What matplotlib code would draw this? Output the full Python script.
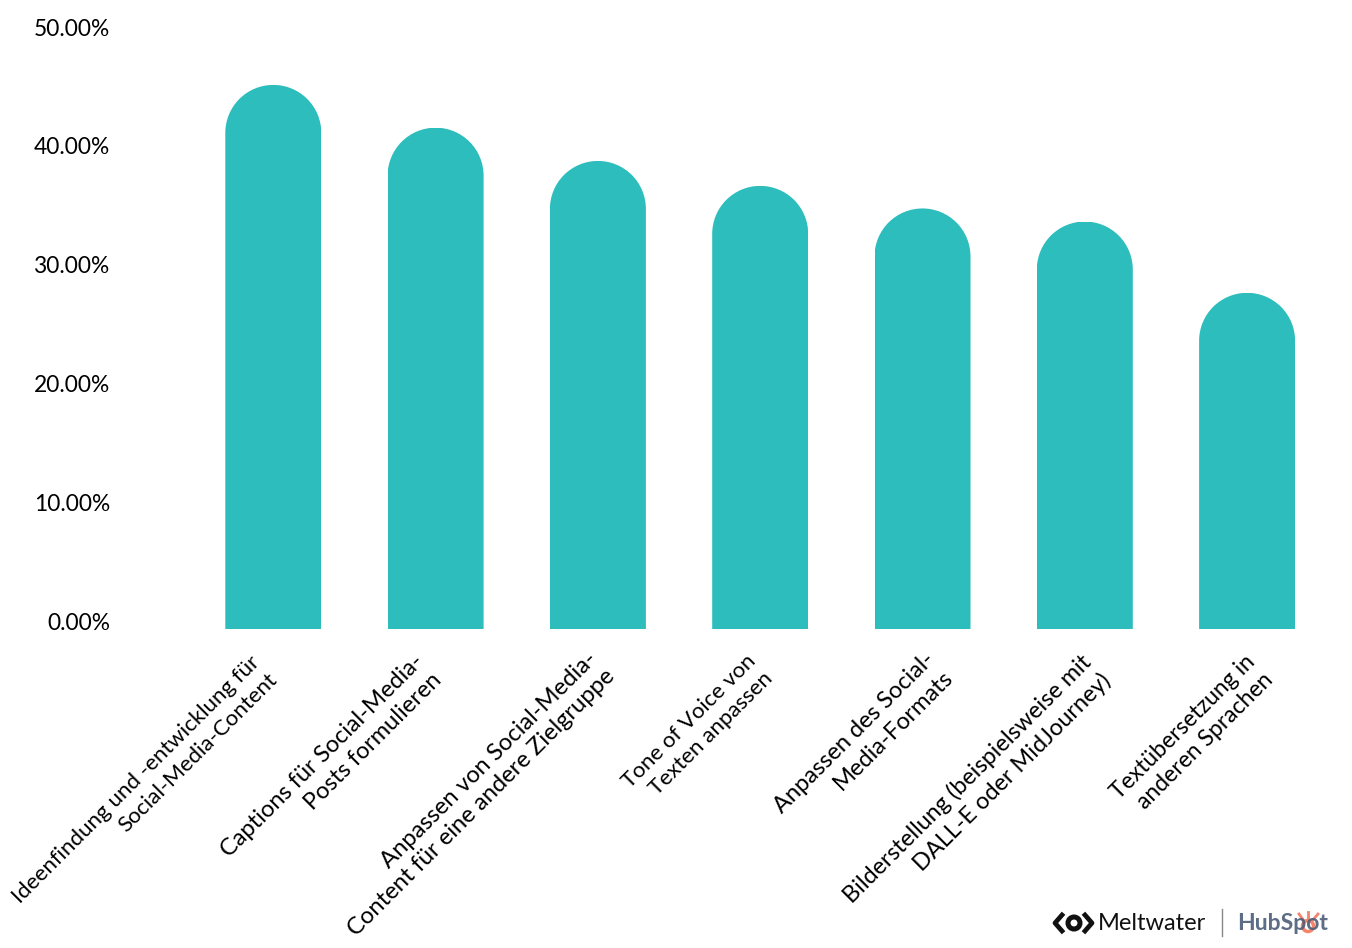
import matplotlib
matplotlib.use("Agg")
import matplotlib.pyplot as plt
from matplotlib.path import Path
from matplotlib.patches import Circle
from matplotlib.lines import Line2D
from matplotlib.transforms import Affine2D, ScaledTranslation
import numpy as np

categories = [
    "Ideenfindung und -entwicklung für\nSocial-Media-Content",
    "Captions für Social-Media-\nPosts formulieren",
    "Anpassen von Social-Media-\nContent für eine andere Zielgruppe",
    "Tone of Voice von\nTexten anpassen",
    "Anpassen des Social-\nMedia-Formats",
    "Bilderstellung (beispielsweise mit\nDALL-E oder MidJourney)",
    "Textübersetzung in\nanderen Sprachen",
]
values = [45.8, 42.2, 39.4, 37.3, 35.4, 34.3, 28.3]
yticks = [0, 10, 20, 30, 40, 50]
ytick_labels = ["0.00%", "10.00%", "20.00%", "30.00%", "40.00%", "50.00%"]

W, H = 1352, 948
FONT = "Lato"
TEAL = "#2DBDBD"
plt.rcParams["font.family"] = FONT

fig = plt.figure(figsize=(W / 100, H / 100), dpi=100, facecolor="white")
ax_l, ax_r, ax_b, ax_t = 117, W, 629, 35
ax = fig.add_axes([ax_l / W, 1 - ax_b / H, (ax_r - ax_l) / W, (ax_b - ax_t) / H])
ax.set_facecolor("none")
x0, dx = 273.3, 162.3
ax.set_xlim((ax_l - x0) / dx, (ax_r - x0) / dx)
ax.set_ylim(0, 50)
for s in ax.spines.values():
    s.set_visible(False)

x = np.arange(len(values))
bar_px = 96
bar_w = bar_px / dx
bars = ax.bar(x, values, width=bar_w, color=TEAL, linewidth=0)
# round the top of each bar (radius = half the bar width, in pixels)
r = (bar_px / 2) / ((ax_b - ax_t) / 50)
arc = Path.arc(0, 180)
for b, xi, v in zip(bars, x, values):
    verts = Affine2D().scale(bar_w / 2, r).translate(xi, v - r).transform(arc.vertices)
    vv = np.vstack([verts, [[xi - bar_w / 2, 0], [xi + bar_w / 2, 0], verts[0]]])
    cc = np.concatenate([arc.codes, [Path.LINETO, Path.LINETO, Path.LINETO]])
    b.set_clip_path(Path(vv, cc), ax.transData)

ax.set_yticks(yticks)
ax.set_yticklabels(ytick_labels, fontsize=16.4, color="black")
ax.tick_params(axis="y", length=0, pad=5)
up = ScaledTranslation(0, 8 / 100, fig.dpi_scale_trans)
for t in ax.get_yticklabels():
    t.set_transform(t.get_transform() + up)

ax.set_xticks(x)
ax.set_xticklabels(categories, rotation=45, ha="right", va="top",
                   rotation_mode="anchor", multialignment="right", linespacing=1.28)
ax.tick_params(axis="x", length=0, pad=17)
# per-label placement and size of the rotated text (the substitute font's widths differ)
label_dx = [-24, -23, -12, -15, 1, -5, -3]
label_dy = [0, 2, 5, 2, 4, 2, 2]
label_size = [16, 17, 17.1, 16, 17, 16.9, 16.5]
for t, ldx, ldy, ls in zip(ax.get_xticklabels(), label_dx, label_dy, label_size):
    t.set_transform(t.get_transform() + ScaledTranslation(ldx / 100, ldy / 100, fig.dpi_scale_trans))
    t.set_fontsize(ls)

# logos
T = Affine2D().scale(1, -1).translate(0, H)  # pixel coords from top-left
fig.text(1098 / W, 1 - 923 / H, "Meltwater", fontsize=17, color="#111111", va="center", ha="left")
for xs, ys in [([1062, 1055, 1062], [915, 923, 931]), ([1085, 1092, 1085], [915, 923, 931])]:
    fig.add_artist(Line2D(xs, ys, transform=T, color="#111111", lw=3.4))
fig.add_artist(Circle((1074, 923), 6, transform=T, fill=False, ec="#111111", lw=3.6))
fig.add_artist(Line2D([1222, 1222], [909, 936], transform=T, color="#888888", lw=1))
fig.text(1237 / W, 1 - 923 / H, "HubSpot", fontsize=16.5, fontweight="bold", color="#4A5D78",
         va="center", ha="left", alpha=0.9)
fig.add_artist(Circle((1308, 926), 5.5, transform=T, fill=True, fc="white", ec="#F2856B", lw=2.5))
for xs, ys in [([1308, 1308], [920, 912]), ([1304, 1299], [921, 914]), ([1312, 1318], [921, 914])]:
    fig.add_artist(Line2D(xs, ys, transform=T, color="#F2856B", lw=2))

fig.savefig("out.png", dpi=100, facecolor="white")
